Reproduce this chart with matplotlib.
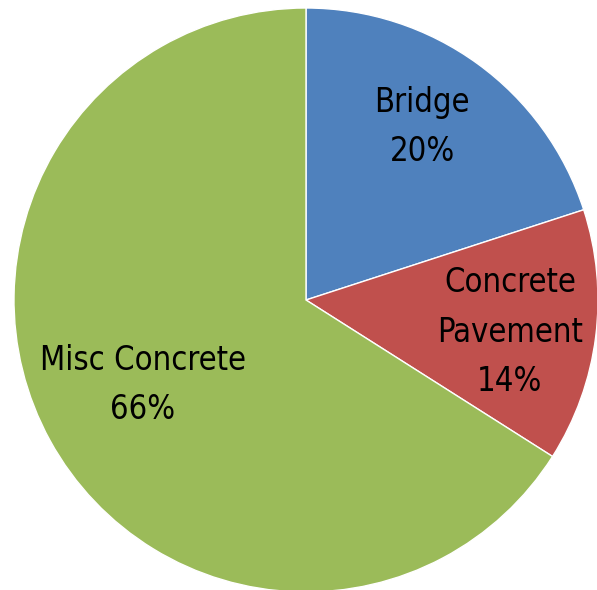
import matplotlib.pyplot as plt

# data
labels = ["Bridge", "Concrete\nPavement", "Misc Concrete"]
shares = [20, 14, 66]
colors = ["#4F81BD", "#C0504D", "#9BBB59"]

plt.rcParams["font.family"] = ["DejaVu Sans"]

fig = plt.figure(figsize=(5.97, 5.90), dpi=100)
ax = fig.add_axes([0, 0, 1, 1])

R = 292.0
cx, cy = 306.0, 300.0

wedges, _ = ax.pie(
    shares,
    colors=colors,
    startangle=90,
    counterclock=False,
    radius=1.0,
    wedgeprops=dict(edgecolor="white", linewidth=1.0),
)

# label centres in pixels
label_px = [(422, 127), (510, 332), (143, 385)]
for lab, val, (px, py) in zip(labels, shares, label_px):
    ax.text((px - cx) / R, (cy - py) / R, f"{lab}\n{val}%",
            ha="center", va="center", fontsize=23.5, color="black",
            linespacing=1.62, fontstretch="condensed")

ax.set_xlim(-cx / R, (597 - cx) / R)
ax.set_ylim(-(590 - cy) / R, cy / R)
ax.set_aspect("auto")
ax.axis("off")

fig.savefig("out.png", dpi=100)
